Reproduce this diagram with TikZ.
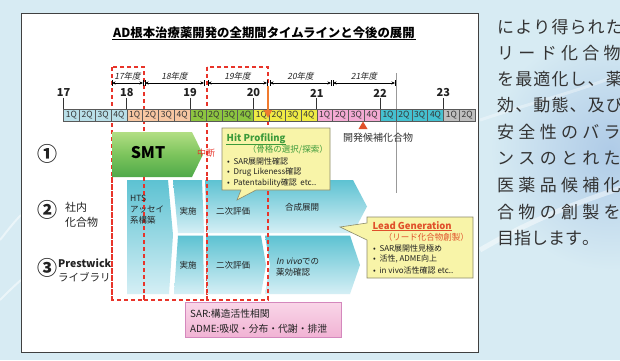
\documentclass[tikz,border=0pt]{standalone}
\usepackage{fontspec}
\newfontfamily\jp{Noto Sans CJK JP}
\newfontfamily\jpit[FakeSlant=0.2]{Noto Sans CJK JP}
\usetikzlibrary{arrows.meta}
\newcommand\myfs[2]{\fontsize{#1}{#2}\selectfont}
\newlength\cpitch
\def\spreadchars#1{\ifx#1\relax\else\makebox[\cpitch][l]{#1}\expandafter\spreadchars\fi}
\definecolor{bgbase}{HTML}{D7EBF3}
\definecolor{bgblue}{HTML}{AFCBE7}
\definecolor{qa}{HTML}{B9DFE8}
\definecolor{qb}{HTML}{F7C7A2}
\definecolor{qc}{HTML}{8DC540}
\definecolor{qd}{HTML}{EFEB45}
\definecolor{qe}{HTML}{F3AAD3}
\definecolor{qf}{HTML}{45C1D0}
\definecolor{qg}{HTML}{BEBEBE}
\definecolor{reddash}{HTML}{E8342A}
\definecolor{orangearr}{HTML}{F07A2E}
\definecolor{smtA}{HTML}{B2DE84}
\definecolor{smtM}{HTML}{7CC45C}
\definecolor{smtB}{HTML}{4FA94A}
\definecolor{cyA}{HTML}{5DC2D2}
\definecolor{cyB}{HTML}{D5EFF5}
\definecolor{callfill}{HTML}{F8F4A8}
\definecolor{calldraw}{HTML}{8C8A6A}
\definecolor{hitgreen}{HTML}{3C9A3A}
\definecolor{leadred}{HTML}{E0502A}
\definecolor{pinkA}{HTML}{F9D6E8}
\definecolor{pinkB}{HTML}{F1B3D4}
\definecolor{pinkE}{HTML}{D488BD}
\definecolor{txt}{HTML}{222222}
\definecolor{coltxt}{HTML}{333333}
\tikzset{
  cyanblk/.style={top color=cyA, bottom color=cyB},
  rdash/.style={draw=reddash, line width=1.3pt, dash pattern=on 4pt off 3pt},
  callbox/.style={fill=callfill, draw=calldraw, line width=0.6pt},
  qbox/.style={draw=black!65, line width=0.5pt, minimum width=15.83pt, minimum height=12pt, inner sep=0pt, font=\jp\myfs{8.5}{8.5}, text=black!80},
  fyarrow/.style={line width=0.6pt, {Stealth[length=3.5pt,width=3pt]}-{Stealth[length=3.5pt,width=3pt]}},
  blk/.style={font=\jp\myfs{8.5}{11}, text=txt, inner sep=0pt},
  bul/.style={font=\jp\myfs{8}{8}, text=txt, inner sep=0pt, anchor=west},
  coltext/.style={font=\jp\myfs{17}{17}, text=coltxt, inner sep=0pt, anchor=west},
  rownum/.style={font=\jp\bfseries\myfs{20}{20}, text=txt},
}
\begin{document}
\begin{tikzpicture}[x=1pt,y=-1pt,font=\jp]
\useasboundingbox (0,0) rectangle (620,360);
\clip (0,0) rectangle (620,360);
% background
\fill[bgbase] (0,0) rectangle (620,360);
\shade[inner color=bgblue, outer color=bgbase] (610,150) ellipse (120pt and 120pt);
\draw[white, opacity=0.45, line width=5pt] (480,250) .. controls (540,215) and (585,200) .. (630,185);
\draw[white, opacity=0.35, line width=3pt] (480,120) .. controls (540,100) and (585,90) .. (630,70);
\draw[white, opacity=0.5, line width=2pt] (0,240) .. controls (8,230) and (14,222) .. (21,215);
\draw[white, opacity=0.5, line width=2pt] (0,300) .. controls (8,292) and (14,286) .. (21,280);
% white frame
\draw[fill=white, draw=black!75, line width=0.8pt] (21,13) rectangle (478,352);
% right column text
\foreach \yy/\pp/\tt in {27/18.1/により得られた, 53/21.3/リード化合物, 79/18.1/を最適化し、薬, 105/18.1/効、動態、及び, 132/21.3/安全性のバラ, 158/21.3/ンスのとれた, 185/21.3/医薬品候補化, 212/21.3/合物の創製を, 238/17/目指します。}{
  \node[coltext] (col\yy) at (497,\yy) {\setlength\cpitch{\pp pt}\expandafter\spreadchars\tt\relax};
}
% title
\node[font=\jp\bfseries\myfs{12.4}{12.4}, text=black, inner sep=0.6pt] (title) at (264,33) {AD根本治療薬開発の全期間タイムラインと今後の展開};
\draw[line width=0.9pt] (title.south west) -- (title.south east);
% red dashed boxes
\draw[rdash] (112,67) rectangle (144,300);
\draw[rdash] (207,67) rectangle (268,300);
\draw[rdash] (144,300) -- (207,300);
% fiscal year arrows
\foreach \a/\b/\t/\n in {112/143/17年度/1, 145/204/18年度/2, 208/267/19年度/3, 270/331/20年度/4, 333/395/21年度/5}{
  \coordinate (fa\n) at (\a,83);
  \coordinate (fb\n) at (\b,83);
  \draw[fyarrow] (fa\n) -- (fb\n);
  \draw[line width=0.6pt] (\a,80) -- (\a,86) (\b,80) -- (\b,86);
  \node[font=\jpit\myfs{8.5}{8.5}, text=txt] (fy\n) at ({(\a+\b)/2},76) {\t};
}
\draw[black!40, line width=0.8pt] (396,73) -- (396,193);
% quarter bar
\foreach \i in {0,...,25}{
  \pgfmathtruncatemacro\yr{int(\i/4)}
  \pgfmathtruncatemacro\q{mod(\i,4)+1}
  \edef\qcol{\ifcase\yr qa\or qb\or qc\or qd\or qe\or qf\or qg\fi}
  \node[qbox, fill=\qcol] (q\i) at ({63.5+\i*15.83+7.915},115) {\q Q};
}
% year labels
\foreach \n [count=\k from 0] in {17,...,23}{
  \node[font=\jp\bfseries\myfs{11}{11}, text=txt, inner sep=0.5pt] (yr\n) at ({63.5+\k*63.32},93) {\n};
  \coordinate (yt\n) at ({63.5+\k*63.32},109);
  \draw[line width=0.7pt, black!80] (yr\n.south) -- (yt\n);
}
% orange arrow
\coordinate (oa1) at (268,86);
\coordinate (oa2) at (268,118);
\draw[orangearr, line width=2pt, -{Triangle[length=8pt,width=8pt]}] (oa1) -- (oa2);
% candidate marker
\fill[leadred] (363,121.5) -- (358.5,129) -- (367.5,129) -- cycle;
\node[font=\jp\myfs{10}{10}, text=black!80] (cand) at (378,137.5) {開発候補化合物};
% row labels
\node[rownum] (r1) at (47,154) {①};
\node[rownum] (r2) at (47,210) {②};
\node[rownum] (r3) at (47,268) {③};
\node[font=\jp\myfs{11}{11}, text=txt, anchor=west, inner sep=0pt] (sha) at (65,207) {社内};
\node[font=\jp\myfs{11}{11}, text=txt, anchor=west, inner sep=0pt] (shb) at (65,222) {化合物};
\node[font=\jp\bfseries\myfs{10.5}{10.5}, text=txt, anchor=west, inner sep=0pt] (pra) at (58,263) {Prestwick};
\node[font=\jp\myfs{10.5}{10.5}, text=txt, anchor=west, inner sep=0pt] (prb) at (58,277) {ライブラリ};
% SMT
\shade[top color=smtA, bottom color=smtB, middle color=smtM] (112,132) -- (192,132) -- (203,154.5) -- (192,177) -- (112,177) -- cycle;
\node[font=\jp\bfseries\myfs{16}{16}, text=black] (smt) at (148,153) {SMT};
\node[font=\jp\myfs{9}{9}, text=reddash] (chu) at (206,153) {中断};
% cyan blocks
\shade[cyanblk] (127,180) -- (168,180) -- (173,235) -- (169,294) -- (127,294) -- cycle;
\shade[cyanblk] (173,180) -- (202,180) -- (204,233) -- (178,233) -- cycle;
\shade[cyanblk] (178,235.5) -- (203,235.5) -- (204,294) -- (174,294) -- cycle;
\shade[cyanblk] (205,180) -- (353,180) -- (367,206.5) -- (353,233) -- (207,233) -- cycle;
\shade[cyanblk] (206,235.5) -- (261,235.5) -- (266,265) -- (261,294) -- (207,294) -- cycle;
\shade[cyanblk] (265,235.5) -- (350,235.5) -- (360,265) -- (350,294) -- (265,294) -- (270,265) -- cycle;
% redraw dashed verticals over blocks
\draw[rdash] (144,177) -- (144,300);
\draw[rdash] (207,177) -- (207,300);
\draw[rdash] (268,177) -- (268,300);
\draw[rdash] (112,177) -- (112,300);
% block texts
\node[blk, anchor=north west, align=left] (hts) at (130,194.5) {HTS\\アッセイ\\系構築};
\node[blk] (jis2) at (188,211) {実施};
\node[blk] (jis3) at (188,265) {実施};
\node[blk] (nij2) at (233,211) {二次評価};
\node[blk] (nij3) at (233,265) {二次評価};
\node[blk] (gos) at (302,207) {合成展開};
\node[blk, anchor=west] (inv1) at (276,261) {{\jpit In vivo}での};
\node[blk, anchor=west] (inv2) at (276,272.5) {薬効確認};
% Hit Profiling callout
\draw[callbox] (222,128) -- (330,128) -- (330,190) -- (256,190) -- (237,200) -- (241,190) -- (222,190) -- cycle;
\node[font=\jp\bfseries\myfs{9.5}{9.5}, text=hitgreen, anchor=west, inner sep=0.5pt] (hit) at (226,139) {Hit Profiling};
\draw[hitgreen, line width=0.7pt] (hit.south west) -- (hit.south east);
\node[font=\jp\myfs{8.5}{8.5}, text=hitgreen, anchor=east, inner sep=0pt] (hitsub) at (328,150) {（骨格の選択/探索）};
\node[bul] (h1) at (227,161) {•\ \ SAR展開性確認};
\node[bul] (h2) at (227,172) {•\ \ Drug Likeness確認};
\node[bul] (h3) at (227,183) {•\ \ Patentability確認\ \ etc..};
% Lead Generation callout
\draw[callbox] (367,217) -- (473,217) -- (473,278) -- (367,278) -- (367,240) -- (340,227) -- (367,223) -- cycle;
\node[font=\jp\bfseries\myfs{9.5}{9.5}, text=leadred, anchor=west, inner sep=0.5pt] (lead) at (372,226) {Lead Generation};
\draw[leadred, line width=0.7pt] (lead.south west) -- (lead.south east);
\node[font=\jp\myfs{8.5}{8.5}, text=leadred, anchor=east, inner sep=0pt] (leadsub) at (469,237) {（リード化合物創製）};
\node[bul] (l1) at (373,248) {•\ \ SAR展開性見極め};
\node[bul] (l2) at (373,259) {•\ \ 活性, ADME向上};
\node[bul] (l3) at (373,270) {•\ \ in vivo活性確認 etc..};
% pink box
\path[top color=pinkA, bottom color=pinkB, draw=pinkE, line width=0.7pt] (185,302) rectangle (341,337);
\node[font=\jp\myfs{9.8}{9.8}, text=txt, anchor=west, inner sep=0pt] (sar) at (190,314) {SAR:構造活性相関};
\node[font=\jp\myfs{9.8}{9.8}, text=txt, anchor=west, inner sep=0pt] (adme) at (190,329) {ADME:吸収・分布・代謝・排泄};
\end{tikzpicture}
\end{document}
